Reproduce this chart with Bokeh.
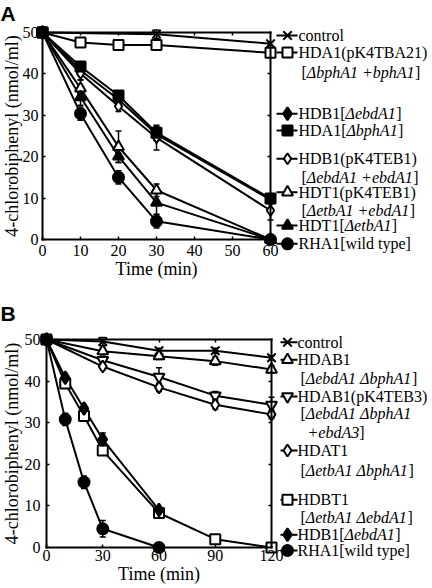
from bokeh.plotting import figure
from bokeh.models import Range1d, LinearAxis, FixedTicker, Whisker, TeeHead, ColumnDataSource
from bokeh.layouts import column
from bokeh.embed import file_html
from bokeh.resources import INLINE
from bokeh.core.properties import value

SERIF = "Liberation Serif"
SANS = "Liberation Sans"

# ---------------- Panel A data ----------------
a_xticks = [0, 10, 20, 30, 40, 50, 60]
a_yticks = [0, 10, 20, 30, 40, 50]
a_top_ticks = [10, 20, 30, 40, 50]
a_right_ticks = [10, 20, 30, 40]
a_time = [0, 10, 20, 30, 60]
a_control_time = [0, 30, 60]
a_control = [50, 49.6, 47.3]
a_control_err = [0, 1.0, 0.4]
a_hda1_pk4tba21 = [50, 47.6, 47.0, 47.0, 45.1]
a_hda1_pk4tba21_err = [0, 0.6, 0.6, 1.2, 0.5]
a_hdb1 = [50, 40.9, 33.8, 25.4, 9.6]
a_hdb1_err = [0, 1.0, 1.0, 1.5, 0.8]
a_hda1 = [50, 41.8, 34.8, 25.8, 9.9]
a_hda1_err = [0, 1.0, 1.0, 1.5, 0.8]
a_hdb1_pk4teb1 = [50, 40.1, 32.2, 24.6, 7.0]
a_hdb1_pk4teb1_err = [0, 1.5, 1.3, 3.0, 2.3]
a_hdt1_pk4teb1 = [50, 36.5, 22.4, 11.9, 0.0]
a_hdt1_pk4teb1_err = [0, 2.0, 3.8, 1.5, 0]
a_hdt1 = [50, 34.4, 20.1, 8.9, 0.0]
a_hdt1_err = [0, 2.0, 1.5, 2.8, 0]
a_rha1 = [50, 30.4, 15.0, 4.4, 0.0]
a_rha1_err = [0, 1.6, 1.6, 1.6, 0]

# ---------------- Panel B data ----------------
b_xticks = [0, 30, 60, 90, 120]
b_yticks = [0, 10, 20, 30, 40, 50]
b_top_ticks = [30, 60, 90]
b_right_ticks = [10, 20, 30, 40]
b_time_long = [0, 30, 60, 90, 120]
b_time_all = [0, 10, 20, 30, 60, 90, 120]
b_time_short = [0, 10, 20, 30, 60]
b_control = [50, 49.5, 47.3, 47.3, 45.6]
b_control_err = [0, 1.0, 0.6, 0.6, 0.5]
b_hdab1 = [50, 47.2, 46.0, 44.8, 42.8]
b_hdab1_err = [0, 0.8, 0.8, 1.0, 0.8]
b_hdab1_pk4teb3 = [50, 45.0, 41.0, 36.5, 34.3]
b_hdab1_pk4teb3_err = [0, 1.0, 2.2, 1.0, 1.8]
b_hdat1 = [50, 43.5, 38.5, 34.3, 32.0]
b_hdat1_err = [0, 0.8, 1.0, 1.0, 1.0]
b_hdbt1 = [50, 39.4, 31.6, 23.3, 8.3, 2.0, 0.0]
b_hdbt1_err = [0, 0.8, 0.8, 1.0, 0.8, 0.5, 0]
b_hdb1 = [50, 40.8, 33.4, 26.0, 9.0]
b_hdb1_err = [0, 1.0, 1.0, 1.5, 0.8]
b_rha1 = [50, 30.8, 15.7, 4.5, 0.0]
b_rha1_err = [0, 1.5, 1.5, 2.0, 0]

# series: times, values, errors, marker, fill, size
series_a = [
    (a_control_time, a_control, a_control_err, "x", "black", 12),
    (a_time, a_hda1_pk4tba21, a_hda1_pk4tba21_err, "square", "white", 10),
    (a_time, a_hdb1, a_hdb1_err, "diamond", "black", 13),
    (a_time, a_hda1, a_hda1_err, "square", "black", 10),
    (a_time, a_hdb1_pk4teb1, a_hdb1_pk4teb1_err, "diamond", "white", 11),
    (a_time, a_hdt1_pk4teb1, a_hdt1_pk4teb1_err, "triangle", "white", 11),
    (a_time, a_hdt1, a_hdt1_err, "triangle", "black", 11),
    (a_time, a_rha1, a_rha1_err, "circle", "black", 11),
]
series_b = [
    (b_time_long, b_control, b_control_err, "x", "black", 12),
    (b_time_long, b_hdab1, b_hdab1_err, "triangle", "white", 11),
    (b_time_long, b_hdab1_pk4teb3, b_hdab1_pk4teb3_err, "inverted_triangle", "white", 11),
    (b_time_long, b_hdat1, b_hdat1_err, "diamond", "white", 12),
    (b_time_all, b_hdbt1, b_hdbt1_err, "square", "white", 10),
    (b_time_short, b_hdb1, b_hdb1_err, "diamond", "black", 13),
    (b_time_short, b_rha1, b_rha1_err, "circle", "black", 11),
]
# marker drawing order (last on top)
draw_order_a = [0, 1, 2, 4, 5, 6, 7, 3]
draw_order_b = [0, 1, 2, 3, 4, 6, 5]

# legend labels: rows of segments ; 'n' upright, 'i' italic
legend_a_labels = [
    [[("control", "n")]],
    [[("HDA1(pK4TBA21)", "n")], [("[", "n"), ("\u0394bphA1 +bphA1", "i"), ("]", "n")]],
    [[("HDB1[", "n"), ("\u0394ebdA1", "i"), ("]", "n")]],
    [[("HDA1[", "n"), ("\u0394bphA1", "i"), ("]", "n")]],
    [[("HDB1(pK4TEB1)", "n")], [("[", "n"), ("\u0394ebdA1 +ebdA1", "i"), ("]", "n")]],
    [[("HDT1(pK4TEB1)", "n")], [("[", "n"), ("\u0394etbA1 +ebdA1", "i"), ("]", "n")]],
    [[("HDT1[", "n"), ("\u0394etbA1", "i"), ("]", "n")]],
    [[("RHA1[wild type]", "n")]],
]
legend_b_labels = [
    [[("control", "n")]],
    [[("HDAB1", "n")], [("[", "n"), ("\u0394ebdA1 \u0394bphA1", "i"), ("]", "n")]],
    [[("HDAB1(pK4TEB3)", "n")], [("[", "n"), ("\u0394ebdA1 \u0394bphA1", "i")], [("+ebdA3", "i"), ("]", "n")]],
    [[("HDAT1", "n")], [("[", "n"), ("\u0394etbA1 \u0394bphA1", "i"), ("]", "n")]],
    [[("HDBT1", "n")], [("[", "n"), ("\u0394etbA1 \u0394ebdA1", "i"), ("]", "n")]],
    [[("HDB1[", "n"), ("\u0394ebdA1", "i"), ("]", "n")]],
    [[("RHA1[wild type]", "n")]],
]

# ---------------- layout (pixels within each panel canvas) ----------------
legend_a_rows_y = [[35.0], [52.0, 72.0], [113.3], [130.0], [158.3, 176.7], [191.7, 210.0], [225.0], [243.3]]
legend_a_rows_dx = [[0], [0, 3], [0], [0], [0, 3], [0, 3], [0], [0]]
legend_b_rows_y = [[41.7], [59.3, 77.7], [96.0, 113.3, 131.7], [150.0, 170.0], [199.3, 217.3], [234.3], [250.0]]
legend_b_rows_dx = [[0], [0, 3], [0, 3, 10], [0, 3], [0, 3], [0], [0]]

W_N = {' ': 250, '(': 333, ')': 333, '+': 564, '/': 278, '[': 333, ']': 333,
       'A': 722, 'B': 667, 'C': 667, 'D': 722, 'E': 611, 'H': 722, 'K': 722, 'P': 556, 'R': 667, 'T': 611,
       'a': 444, 'b': 500, 'c': 444, 'd': 500, 'e': 444, 'h': 500, 'i': 278, 'l': 278, 'm': 778,
       'n': 500, 'o': 500, 'p': 500, 'r': 333, 't': 278, 'w': 722, 'y': 500, '\u0394': 612}
W_I = {' ': 250, '+': 675, 'A': 611, 'a': 500, 'b': 500, 'd': 500, 'e': 444, 'h': 500, 'p': 500,
       't': 278, '\u0394': 612}


def text_width(s, style, px):
    tab = W_I if style == "i" else W_N
    return sum(tab.get(c, 500) for c in s) * px / 1000.0


def make_panel(W, H, x0px, x1px, xmax, y0px, y1px, ymax,
               xticks, yticks, top_ticks, right_ticks, series, order, letter,
               labels, rows_y, rows_dx, sw0, sw1, xm, xt,
               xstand, xlab_stand, ystand, ylab_stand, font_px):
    sx = (x1px - x0px) / xmax
    sy = (y0px - y1px) / ymax

    def dx(px):
        return (px - x0px) / sx

    def dy(px):
        return (y0px - px) / sy

    p = figure(width=W, height=H, x_range=Range1d(dx(0), dx(W)), y_range=Range1d(dy(H), dy(0)),
               x_axis_type=None, y_axis_type=None, toolbar_location=None, output_backend="svg",
               min_border_left=0, min_border_right=0, min_border_top=0, min_border_bottom=0)
    p.outline_line_color = None
    p.background_fill_color = "white"
    p.border_fill_color = "white"

    def axis(loc, bounds, ticks, side, labels_on, standoff, title=None, tstand=0):
        ax = LinearAxis(fixed_location=loc, bounds=bounds,
                        ticker=FixedTicker(ticks=ticks, minor_ticks=[]))
        ax.axis_line_width = 2
        ax.axis_line_color = "black"
        ax.axis_line_cap = "square"
        ax.major_tick_in = 3
        ax.major_tick_out = 0
        ax.major_tick_line_width = 1.5
        ax.major_tick_line_color = "black"
        ax.minor_tick_line_color = None
        ax.major_label_text_font = SERIF
        ax.major_label_text_font_size = "16px"
        ax.major_label_standoff = standoff
        ax.major_label_text_color = "black" if labels_on else None
        if title:
            ax.axis_label = title
            ax.axis_label_text_font = SERIF
            ax.axis_label_text_font_size = "18px"
            ax.axis_label_text_font_style = "normal"
            ax.axis_label_text_color = "black"
            ax.axis_label_standoff = tstand
        p.add_layout(ax, side)

    axis(0, (0, xmax), xticks, "below", True, xstand, "Time (min)", xlab_stand)
    axis(0, (0, ymax), yticks, "left", True, ystand, "4-chlorobiphenyl (nmol/ml)", ylab_stand)
    axis(ymax, (0, xmax), top_ticks, "above", False, 0)
    axis(xmax, (0, ymax), right_ticks, "right", False, 0)

    for (t, v, e, m, fill, size) in series:
        p.line(t, v, line_color="black", line_width=2)
    for (t, v, e, m, fill, size) in series:
        tt = [a for a, er in zip(t, e) if er > 0]
        up = [b + er for b, er in zip(v, e) if er > 0]
        lo = [b - er for b, er in zip(v, e) if er > 0]
        src = ColumnDataSource(data=dict(t=tt, upper=up, lower=lo))
        wk = Whisker(source=src, base="t", upper="upper", lower="lower", level="underlay",
                     line_color="black", line_width=1.5,
                     upper_head=TeeHead(size=6, line_width=1.5, line_color="black"),
                     lower_head=TeeHead(size=6, line_width=1.5, line_color="black"))
        p.add_layout(wk)
    for i in order:
        (t, v, e, m, fill, size) = series[i]
        p.scatter(t, v, marker=m, size=size, fill_color=fill, line_color="black", line_width=2)

    # panel letter
    p.text(x=[dx(0)], y=[dy(13)], text=[letter], text_font=value(SANS), text_font_style="bold",
           text_font_size=value("21px"), text_baseline="middle", text_align="left", text_color="black")

    # legend
    ys = [dy(ry[0]) for ry in rows_y]
    p.segment(x0=[dx(sw0)] * len(ys), y0=ys, x1=[dx(sw1)] * len(ys), y1=ys,
              line_color="black", line_width=2)
    for (s, y) in zip(series, ys):
        p.scatter([dx(xm)], [y], marker=s[3], size=s[5], fill_color=s[4], line_color="black", line_width=2)
    tx, ty, tt, tst = [], [], [], []
    for lab, ry, rdx in zip(labels, rows_y, rows_dx):
        for segs, ypx, ddx in zip(lab, ry, rdx):
            xpx = xt + ddx
            for (txt, st) in segs:
                tx.append(dx(xpx))
                ty.append(dy(ypx))
                tt.append(txt)
                tst.append("italic" if st == "i" else "normal")
                xpx += text_width(txt, st, font_px)
    src = ColumnDataSource(data=dict(x=tx, y=ty, text=tt, style=tst))
    p.text(x="x", y="y", text="text", source=src, text_font=value(SERIF),
           text_font_size=value(f"{font_px}px"), text_font_style="style",
           text_baseline="middle", text_align="left", text_color="black")
    return p


pa = make_panel(432, 300, 42, 270, 60, 239, 32, 50,
                a_xticks, a_yticks, a_top_ticks, a_right_ticks, series_a, draw_order_a, "A",
                legend_a_labels, legend_a_rows_y, legend_a_rows_dx, 276, 297, 287, 298,
                5, 0, 4, -2, 16)
pb = make_panel(432, 288, 46, 271, 120, 247, 39, 50,
                b_xticks, b_yticks, b_top_ticks, b_right_ticks, series_b, draw_order_b, "B",
                legend_b_labels, legend_b_rows_y, legend_b_rows_dx, 280, 297, 287, 297,
                2, 0, 6, 0, 16)

layout = column(pa, pb)
open("out.html", "w").write(file_html(layout, INLINE))
